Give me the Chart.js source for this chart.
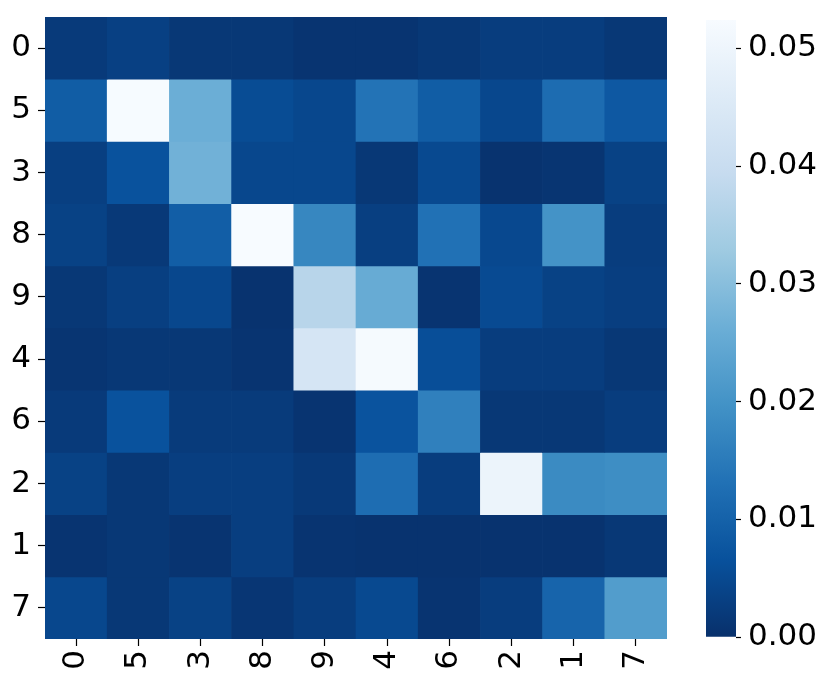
<!DOCTYPE html>
<html>
<head>
<meta charset="utf-8">
<script src="https://cdn.jsdelivr.net/npm/chart.js@4"></script>
<style>
  body { margin: 0; background: #fff; }
  #wrap { position: relative; width: 831px; height: 685px; }
  #heat { position: absolute; left: 0; top: 0; }
  #cbar { position: absolute; left: 700px; top: 0; }
</style>
</head>
<body>
<div id="wrap">
  <canvas id="heat" width="690" height="685"></canvas>
  <canvas id="cbar" width="131" height="685"></canvas>
</div>
<script>
// labels, rows top to bottom, columns left to right
var rowLabels = ['0', '5', '3', '8', '9', '4', '6', '2', '1', '7'];
var colLabels = ['0', '5', '3', '8', '9', '4', '6', '2', '1', '7'];

// cell values, one array per row
var row0 = [0.0020, 0.0032, 0.0015, 0.0015, 0.0008, 0.0008, 0.0015, 0.0025, 0.0025, 0.0015];
var row5 = [0.0090, 0.0522, 0.0262, 0.0055, 0.0045, 0.0135, 0.0090, 0.0045, 0.0120, 0.0080];
var row3 = [0.0030, 0.0068, 0.0270, 0.0045, 0.0045, 0.0015, 0.0050, 0.0005, 0.0010, 0.0035];
var row8 = [0.0035, 0.0018, 0.0092, 0.0524, 0.0175, 0.0030, 0.0130, 0.0048, 0.0200, 0.0025];
var row9 = [0.0015, 0.0030, 0.0045, 0.0005, 0.0370, 0.0255, 0.0008, 0.0052, 0.0035, 0.0028];
var row4 = [0.0010, 0.0015, 0.0015, 0.0008, 0.0435, 0.0518, 0.0060, 0.0025, 0.0025, 0.0015];
var row6 = [0.0020, 0.0068, 0.0022, 0.0022, 0.0008, 0.0070, 0.0160, 0.0015, 0.0015, 0.0025];
var row2 = [0.0035, 0.0015, 0.0028, 0.0028, 0.0018, 0.0122, 0.0025, 0.0495, 0.0182, 0.0188];
var row1 = [0.0008, 0.0015, 0.0008, 0.0028, 0.0008, 0.0005, 0.0005, 0.0005, 0.0005, 0.0015];
var row7 = [0.0045, 0.0015, 0.0035, 0.0012, 0.0025, 0.0050, 0.0008, 0.0025, 0.0105, 0.0222];
var rows = [row0, row5, row3, row8, row9, row4, row6, row2, row1, row7];

// colour scale limits and colorbar ticks
var vmin = 0;
var vmax = 0.0524;
var cbarTicks = [0, 0.01, 0.02, 0.03, 0.04, 0.05];

// matplotlib "Blues", used reversed (dark = low)
var blues = ['#f7fbff', '#deebf7', '#c6dbef', '#9ecae1', '#6baed6', '#4292c6', '#2171b5', '#08519c', '#08306b'];

function hexToRgb(h) {
  return [parseInt(h.substr(1, 2), 16), parseInt(h.substr(3, 2), 16), parseInt(h.substr(5, 2), 16)];
}

function colorFor(v) {
  var t = 1 - Math.min(1, Math.max(0, (v - vmin) / (vmax - vmin)));
  var pos = t * (blues.length - 1);
  var i = Math.min(blues.length - 2, Math.floor(pos));
  var f = pos - i;
  var a = hexToRgb(blues[i]), b = hexToRgb(blues[i + 1]);
  var c = a.map(function(x, k) { return Math.round(x + (b[k] - x) * f); });
  return 'rgb(' + c.join(',') + ')';
}

var font = { family: 'DejaVu Sans', size: 31 };
Chart.defaults.color = '#000';

// Heatmap: one dataset per row, floating bars [r, r+1]
var datasets = rows.map(function(vals, r) {
  return {
    label: rowLabels[r],
    data: vals.map(function() { return [r, r + 1]; }),
    backgroundColor: vals.map(colorFor),
    borderWidth: 0,
    grouped: false,
    barPercentage: 1,
    categoryPercentage: 1
  };
});

var heat = new Chart(document.getElementById('heat').getContext('2d'), {
  type: 'bar',
  data: { labels: colLabels, datasets: datasets },
  options: {
    responsive: false,
    animation: false,
    layout: { padding: { top: 17, right: 23, left: 0, bottom: 0 } },
    plugins: { legend: { display: false }, tooltip: { enabled: false } },
    scales: {
      x: {
        type: 'category',
        border: { display: false },
        grid: { display: true, drawOnChartArea: false, offset: false, tickLength: 7, tickColor: '#000', tickWidth: 1.2 },
        ticks: { font: font, minRotation: 90, maxRotation: 90, padding: 4 },
        afterFit: function(s) {
          s.height = 46;
          s.paddingLeft = 0;
          s.paddingRight = 0;
        }
      },
      y: {
        type: 'linear',
        min: 0,
        max: rowLabels.length,
        reverse: true,
        border: { display: false },
        grid: { display: true, drawOnChartArea: false, tickLength: 7, tickColor: '#000', tickWidth: 1.2 },
        afterBuildTicks: function(s) {
          s.ticks = rowLabels.map(function(_, i) { return { value: i + 0.5 }; });
        },
        ticks: {
          font: font,
          padding: 7,
          autoSkip: false,
          callback: function(v) { return rowLabels[Math.floor(v)]; }
        },
        afterFit: function(s) {
          s.width = 45;
          s.paddingTop = 0;
          s.paddingBottom = 0;
        }
      }
    }
  }
});

// Colorbar: one floating bar spanning the value range, gradient fill
var cbar = new Chart(document.getElementById('cbar').getContext('2d'), {
  type: 'bar',
  data: {
    labels: [''],
    datasets: [{
      data: [[vmin, vmax]],
      barPercentage: 1,
      categoryPercentage: 1,
      borderWidth: 0,
      backgroundColor: function(ctx) {
        var area = ctx.chart.chartArea;
        if (!area) return blues[8];
        var g = ctx.chart.ctx.createLinearGradient(0, area.bottom, 0, area.top);
        blues.slice().reverse().forEach(function(c, i) { g.addColorStop(i / (blues.length - 1), c); });
        return g;
      }
    }]
  },
  options: {
    responsive: false,
    animation: false,
    layout: { padding: { top: 20, left: 6, right: 0, bottom: 48 } },
    plugins: { legend: { display: false }, tooltip: { enabled: false } },
    scales: {
      x: { display: false },
      y: {
        position: 'right',
        min: vmin,
        max: vmax,
        border: { display: false },
        grid: { display: true, drawOnChartArea: false, tickLength: 5, tickColor: '#000', tickWidth: 1.2 },
        afterBuildTicks: function(s) {
          s.ticks = cbarTicks.map(function(v) { return { value: v }; });
        },
        ticks: {
          font: font,
          padding: 7,
          callback: function(v) { return v.toFixed(2); }
        },
        afterFit: function(s) {
          s.width = 95;
          s.paddingTop = 0;
          s.paddingBottom = 0;
        }
      }
    }
  }
});
</script>
</body>
</html>
